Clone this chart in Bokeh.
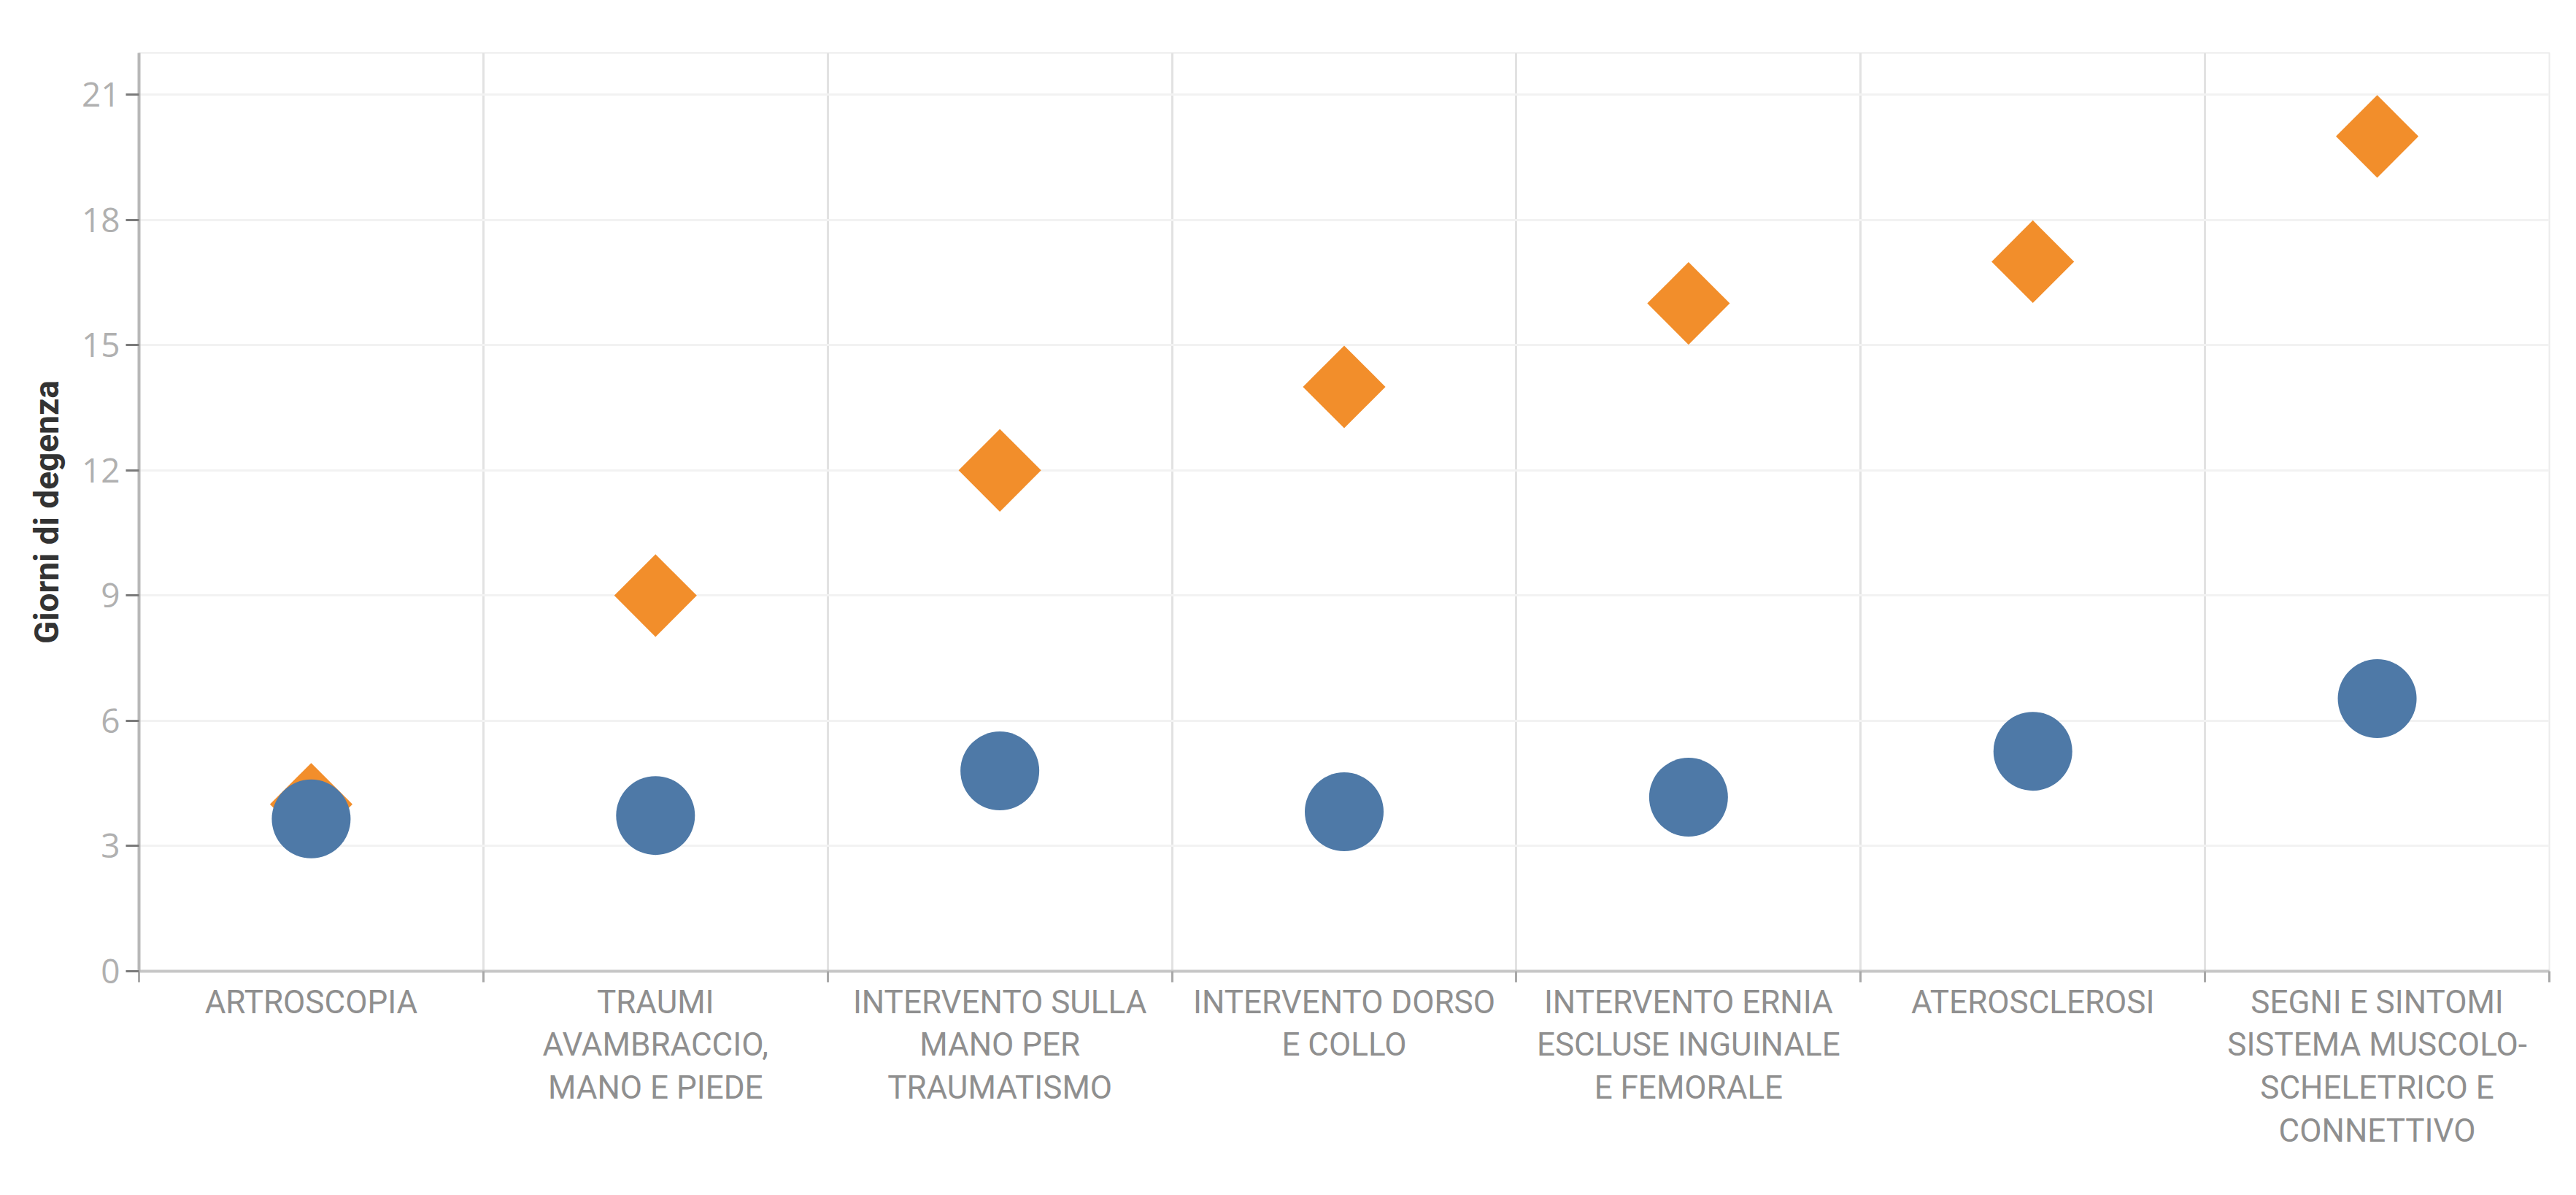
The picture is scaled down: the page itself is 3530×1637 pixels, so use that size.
from bokeh.plotting import figure
from bokeh.models import FixedTicker, Range1d, ColumnDataSource
from bokeh.embed import file_html
from bokeh.resources import INLINE
import numpy as np

# ---- data ----
categories = [
    "ARTROSCOPIA",
    "TRAUMI AVAMBRACCIO, MANO E PIEDE",
    "INTERVENTO SULLA MANO PER TRAUMATISMO",
    "INTERVENTO DORSO E COLLO",
    "INTERVENTO ERNIA ESCLUSE INGUINALE E FEMORALE",
    "ATEROSCLEROSI",
    "SEGNI E SINTOMI SISTEMA MUSCOLO-SCHELETRICO E CONNETTIVO",
]
category_labels = [
    "ARTROSCOPIA",
    "TRAUMI\nAVAMBRACCIO,\nMANO E PIEDE",
    "INTERVENTO SULLA\nMANO PER\nTRAUMATISMO",
    "INTERVENTO DORSO\nE COLLO",
    "INTERVENTO ERNIA\nESCLUSE INGUINALE\nE FEMORALE",
    "ATEROSCLEROSI",
    "SEGNI E SINTOMI\nSISTEMA MUSCOLO-\nSCHELETRICO E\nCONNETTIVO",
]
giorni_soglia = [4, 9, 12, 14, 16, 17, 20]          # orange diamonds
giorni_media = [3.65, 3.73, 4.8, 3.82, 4.17, 5.27, 6.53]  # blue circles
y_ticks = [0, 3, 6, 9, 12, 15, 18, 21]
y_title = "Giorni di degenza"

# ---- positions via index on a linear scale ----
n = len(categories)
centers = [i + 0.5 for i in range(n)]
bounds = list(range(n + 1))

src = ColumnDataSource(dict(x=centers, cat=categories,
                            soglia=giorni_soglia, media=giorni_media))

p = figure(width=3514, height=1621, output_backend="svg", toolbar_location=None,
           x_range=Range1d(0, n), y_range=Range1d(0, 22),
           min_border_left=190, min_border_right=21,
           min_border_top=72, min_border_bottom=291)

p.background_fill_color = "white"
p.border_fill_color = "white"
p.outline_line_color = "#ebebeb"
p.outline_line_width = 2

# markers
p.scatter("x", "soglia", source=src, marker="square", size=80, angle=np.pi / 4,
          fill_color="#F28E2B", line_color=None)
p.scatter("x", "media", source=src, marker="circle", size=108,
          fill_color="#4E79A7", line_color=None)

# x axis
xa = p.xaxis[0]
xa.ticker = FixedTicker(ticks=centers, minor_ticks=bounds)
xa.major_label_overrides = {c: lab for c, lab in zip(centers, category_labels)}
xa.major_tick_line_color = None
xa.minor_tick_in = 0
xa.minor_tick_out = 15
xa.minor_tick_line_color = "#a8a8a8"
xa.minor_tick_line_width = 3
xa.axis_line_color = "#c6c6c6"
xa.axis_line_width = 4
xa.major_label_standoff = 1
xa.major_label_text_font = "Roboto"
xa.major_label_text_font_size = "44px"
xa.major_label_text_color = "#8f8f8f"
xa.major_label_text_line_height = 1.13
xa.major_label_orientation = "horizontal"

p.xgrid.grid_line_color = None
p.xgrid.minor_grid_line_color = "#e2e2e2"
p.xgrid.minor_grid_line_width = 3

# y axis
ya = p.yaxis[0]
ya.ticker = FixedTicker(ticks=y_ticks, minor_ticks=[])
ya.axis_line_color = "#b8b8b8"
ya.axis_line_width = 4
ya.major_tick_in = 0
ya.major_tick_out = 18
ya.major_tick_line_color = "#7a7a7a"
ya.major_tick_line_width = 3
ya.major_label_standoff = 8
ya.major_label_text_font = "Open Sans"
ya.major_label_text_font_size = "46px"
ya.major_label_text_color = "#b0b0b0"
ya.axis_label = y_title
ya.axis_label_text_font = "Roboto"
ya.axis_label_text_font_style = "bold"
ya.axis_label_text_font_size = "46px"
ya.axis_label_text_color = "#333333"
ya.axis_label_standoff = 18

p.ygrid.grid_line_color = "#f2f2f2"
p.ygrid.grid_line_width = 3

open("out.html", "w").write(file_html(p, INLINE))
